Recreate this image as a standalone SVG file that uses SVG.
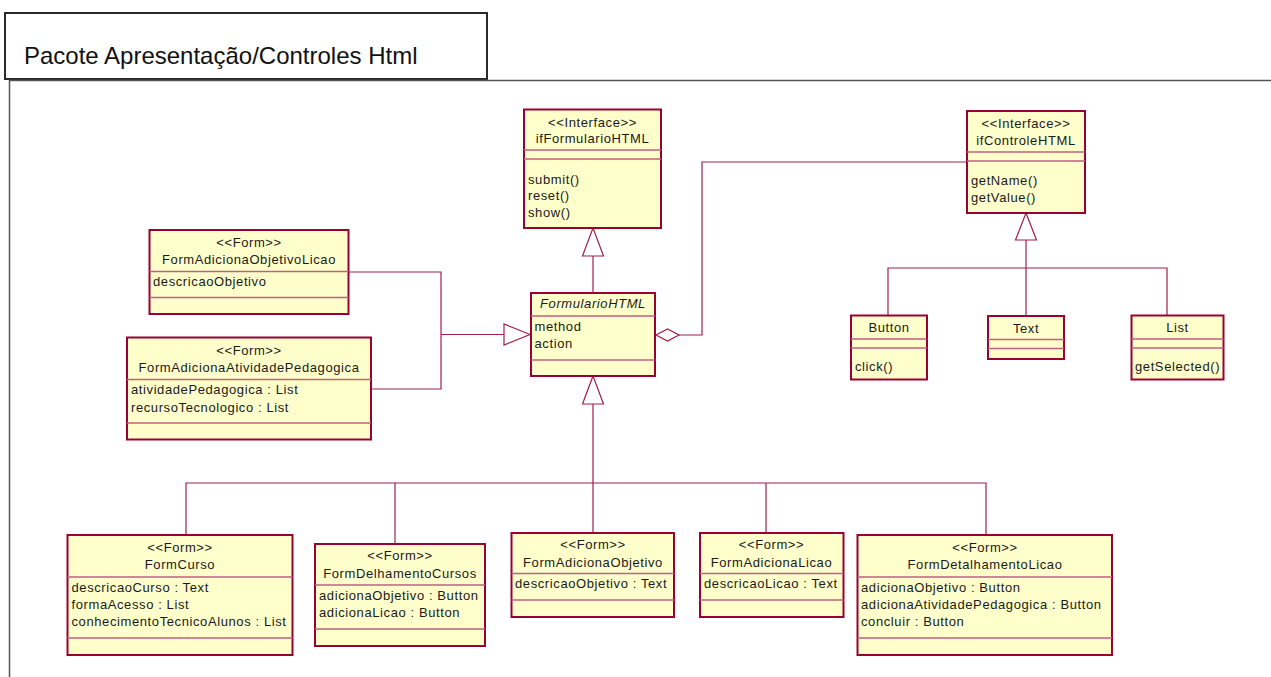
<svg xmlns="http://www.w3.org/2000/svg" width="1271" height="677" viewBox="0 0 1271 677">
  <style>
    .pkg { fill: none; stroke: #2a2a2a; stroke-width: 2; }
    .pkgbody { fill: none; stroke: #555; stroke-width: 1.5; }
    .title { font-family: "Liberation Sans", Arial, sans-serif; font-size: 24px; fill: #111; }
    .box { fill: #ffffcc; stroke: #990033; stroke-width: 2; }
    .sep { stroke: #c06080; stroke-width: 1.5; fill: none; }
    .t { font-family: "Liberation Sans", Arial, sans-serif; font-size: 13px; letter-spacing: 0.6px; fill: #1a1a1a; }
    .c { text-anchor: middle; }
    .i { font-style: italic; }
    .ln { fill: none; stroke: #a0204a; stroke-width: 1.2; }
    .tri { fill: #ffffff; stroke: #a0204a; stroke-width: 1.2; }
  </style>

  <!-- package frame -->
  <g id="package">
    <rect class="pkg" x="5" y="13" width="482" height="66"/>
    <path class="pkgbody" d="M9.5 677 V80.5 H1271"/>
    <text class="title" x="24" y="64">Pacote Apresentação/Controles Html</text>
  </g>

  <!-- connectors -->
  <g id="connectors">
    <!-- FormularioHTML realizes ifFormularioHTML -->
    <path class="ln" d="M593 256 V293"/>
    <polygon class="tri" points="593,228 582.5,256 603.5,256"/>
    <!-- bottom forms specialise FormularioHTML -->
    <path class="ln" d="M593 404 V483 M186 535 V483 H986 V535 M395 483 V544 M593 483 V533 M766 483 V533"/>
    <polygon class="tri" points="593,376 582.5,404 603.5,404"/>
    <!-- left forms specialise FormularioHTML -->
    <path class="ln" d="M349 272 H441 V389 H371 M441 334.5 H504"/>
    <polygon class="tri" points="530,334.5 504,324 504,345"/>
    <!-- FormularioHTML aggregates ifControleHTML -->
    <path class="ln" d="M679 335 H702 V162 H967"/>
    <polygon class="tri" points="656,335 667.5,329 679,335 667.5,341"/>
    <!-- controls realize ifControleHTML -->
    <path class="ln" d="M1026 240 V268 M888 315.5 V268 H1167 V315.5 M1026 268 V316"/>
    <polygon class="tri" points="1026,213 1015.5,240 1036.5,240"/>
  </g>

  <g id="ifFormularioHTML">
    <rect class="box" x="524" y="109.5" width="137" height="118.5"/>
    <path class="sep" d="M524 150 H661 M524 159 H661"/>
    <text class="t c" x="592.5" y="127">&lt;&lt;Interface&gt;&gt;</text>
    <text class="t c" x="592.5" y="142.5">ifFormularioHTML</text>
    <text class="t" x="528" y="183.5">submit()</text>
    <text class="t" x="528" y="200">reset()</text>
    <text class="t" x="528" y="216.5">show()</text>
  </g>

  <g id="ifControleHTML">
    <rect class="box" x="967" y="111" width="118" height="102"/>
    <path class="sep" d="M967 152 H1085 M967 161 H1085"/>
    <text class="t c" x="1026" y="128">&lt;&lt;Interface&gt;&gt;</text>
    <text class="t c" x="1026" y="145">ifControleHTML</text>
    <text class="t" x="971" y="184.5">getName()</text>
    <text class="t" x="971" y="201.5">getValue()</text>
  </g>

  <g id="FormularioHTML">
    <rect class="box" x="531" y="293" width="124" height="83"/>
    <path class="sep" d="M531 316 H655 M531 360 H655"/>
    <text class="t c i" x="593" y="308">FormularioHTML</text>
    <text class="t" x="534.5" y="330.5">method</text>
    <text class="t" x="534.5" y="348">action</text>
  </g>

  <g id="Button">
    <rect class="box" x="851" y="315.5" width="76" height="64"/>
    <path class="sep" d="M851 339 H927 M851 348 H927"/>
    <text class="t c" x="889" y="332">Button</text>
    <text class="t" x="855" y="371">click()</text>
  </g>

  <g id="Text">
    <rect class="box" x="988" y="316" width="76" height="43"/>
    <path class="sep" d="M988 339.5 H1064 M988 348.5 H1064"/>
    <text class="t c" x="1026" y="333">Text</text>
  </g>

  <g id="List">
    <rect class="box" x="1131.5" y="315.5" width="92" height="64"/>
    <path class="sep" d="M1131.5 339 H1223.5 M1131.5 348 H1223.5"/>
    <text class="t c" x="1177.5" y="331.5">List</text>
    <text class="t" x="1135" y="370.5">getSelected()</text>
  </g>

  <g id="FormAdicionaObjetivoLicao">
    <rect class="box" x="149.5" y="230" width="199" height="84"/>
    <path class="sep" d="M149.5 271.5 H348.5 M149.5 297.5 H348.5"/>
    <text class="t c" x="249" y="246.5">&lt;&lt;Form&gt;&gt;</text>
    <text class="t c" x="249" y="263.5">FormAdicionaObjetivoLicao</text>
    <text class="t" x="153" y="285.5">descricaoObjetivo</text>
  </g>

  <g id="FormAdicionaAtividadePedagogica">
    <rect class="box" x="127" y="337.5" width="244" height="102"/>
    <path class="sep" d="M127 379.5 H371 M127 423 H371"/>
    <text class="t c" x="249" y="355">&lt;&lt;Form&gt;&gt;</text>
    <text class="t c" x="249" y="372">FormAdicionaAtividadePedagogica</text>
    <text class="t" x="131" y="394">atividadePedagogica : List</text>
    <text class="t" x="131" y="411.5">recursoTecnologico : List</text>
  </g>

  <g id="FormCurso">
    <rect class="box" x="67.5" y="535" width="225" height="120"/>
    <path class="sep" d="M67.5 577 H292.5 M67.5 638 H292.5"/>
    <text class="t c" x="180" y="551.5">&lt;&lt;Form&gt;&gt;</text>
    <text class="t c" x="180" y="569">FormCurso</text>
    <text class="t" x="71.5" y="591.5">descricaoCurso : Text</text>
    <text class="t" x="71.5" y="608.5">formaAcesso : List</text>
    <text class="t" x="71.5" y="626">conhecimentoTecnicoAlunos : List</text>
  </g>

  <g id="FormDelhamentoCursos">
    <rect class="box" x="315" y="544" width="170" height="102"/>
    <path class="sep" d="M315 585 H485 M315 629 H485"/>
    <text class="t c" x="400" y="560">&lt;&lt;Form&gt;&gt;</text>
    <text class="t c" x="400" y="578">FormDelhamentoCursos</text>
    <text class="t" x="319" y="600">adicionaObjetivo : Button</text>
    <text class="t" x="319" y="617">adicionaLicao : Button</text>
  </g>

  <g id="FormAdicionaObjetivo">
    <rect class="box" x="511.5" y="533" width="162.5" height="84"/>
    <path class="sep" d="M511.5 573.5 H674 M511.5 600 H674"/>
    <text class="t c" x="593" y="548.5">&lt;&lt;Form&gt;&gt;</text>
    <text class="t c" x="593" y="566.5">FormAdicionaObjetivo</text>
    <text class="t" x="515" y="587.5">descricaoObjetivo : Text</text>
  </g>

  <g id="FormAdicionaLicao">
    <rect class="box" x="700" y="533" width="143.5" height="84"/>
    <path class="sep" d="M700 573.5 H843.5 M700 600 H843.5"/>
    <text class="t c" x="771.5" y="548.5">&lt;&lt;Form&gt;&gt;</text>
    <text class="t c" x="771.5" y="566.5">FormAdicionaLicao</text>
    <text class="t" x="704" y="587.5">descricaoLicao : Text</text>
  </g>

  <g id="FormDetalhamentoLicao">
    <rect class="box" x="857.5" y="535" width="254.5" height="120"/>
    <path class="sep" d="M857.5 577 H1112 M857.5 638 H1112"/>
    <text class="t c" x="985" y="551.5">&lt;&lt;Form&gt;&gt;</text>
    <text class="t c" x="985" y="569">FormDetalhamentoLicao</text>
    <text class="t" x="861" y="591.5">adicionaObjetivo : Button</text>
    <text class="t" x="861" y="608.5">adicionaAtividadePedagogica : Button</text>
    <text class="t" x="861" y="626">concluir : Button</text>
  </g>
</svg>
